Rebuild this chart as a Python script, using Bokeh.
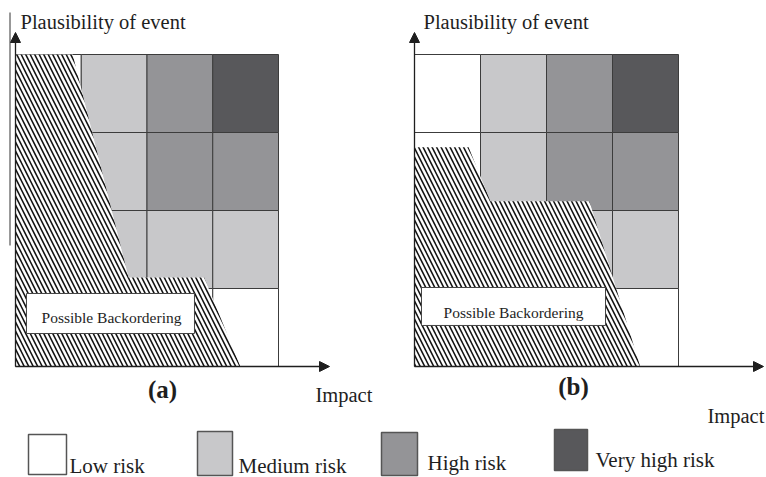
from bokeh.plotting import figure
from bokeh.models import Range1d, Arrow, NormalHead
from bokeh.core.properties import value
from bokeh.embed import file_html
from bokeh.resources import INLINE

# ---------------- data ----------------
impact_levels = [1, 2, 3, 4]
plaus_levels = [1, 2, 3, 4]
# risk category per impact level, one list per plausibility level
risk_plaus_4 = ["Low risk", "Medium risk", "High risk", "Very high risk"]
risk_plaus_3 = ["Low risk", "Medium risk", "High risk", "High risk"]
risk_plaus_2 = ["Low risk", "Medium risk", "Medium risk", "Medium risk"]
risk_plaus_1 = ["Low risk", "Low risk", "Low risk", "Low risk"]
risk_rows = {4: risk_plaus_4, 3: risk_plaus_3, 2: risk_plaus_2, 1: risk_plaus_1}

risk_levels = ["Low risk", "Medium risk", "High risk", "Very high risk"]
risk_colors = ["#ffffff", "#c8c8ca", "#949497", "#58585b"]

# possible backordering regions (impact, plausibility), grid units
backorder_a_impact = [0, 0.87, 1.72, 2.87, 3.42, 0]
backorder_a_plaus = [4, 4, 1.14, 1.14, 0, 0]
backorder_b_impact = [0, 0.82, 1.15, 2.65, 3.42, 0]
backorder_b_plaus = [2.81, 2.81, 2.12, 2.12, 0, 0]

panel_labels = ["(a)", "(b)"]
axis_y_title = "Plausibility of event"
axis_x_title = "Impact"
region_label = "Possible Backordering"

FONT = value("Liberation Serif")
INK = "#1e1e1e"
GRID = "#3c3c3c"

# ---------------- figure ----------------
W, H = 766, 477
p = figure(width=W, height=H, x_range=Range1d(0, W), y_range=Range1d(H, 0),
           output_backend="svg", toolbar_location=None, min_border=0)
p.axis.visible = False
p.grid.visible = False
p.outline_line_color = None
p.background_fill_color = "white"
p.border_fill_color = "white"

# panel grid scales (grid units)
ux_a, ux_b, uy = 65.75, 66.0, 78.0
p.extra_x_ranges = {
    "a": Range1d(-15 / ux_a, -15 / ux_a + W / ux_a),
    "b": Range1d(-414 / ux_b, -414 / ux_b + W / ux_b),
}
p.extra_y_ranges = {"g": Range1d(-(H - 366) / uy, 366 / uy)}

color_of = dict(zip(risk_levels, risk_colors))

def draw_panel(rname, poly_x, poly_y, box, text_xy):
    lefts, rights, bottoms, tops, cols = [], [], [], [], []
    for pl in plaus_levels:
        for im, r in zip(impact_levels, risk_rows[pl]):
            lefts.append(im - 1); rights.append(im)
            bottoms.append(pl - 1); tops.append(pl)
            cols.append(color_of[r])
    p.quad(left=lefts, right=rights, bottom=bottoms, top=tops, fill_color=cols,
           line_color=GRID, line_width=1, x_range_name=rname, y_range_name="g")
    p.patch(poly_x, poly_y, fill_color="white", hatch_pattern="\\", hatch_scale=9,
            hatch_weight=1.6, hatch_color="#151515", line_color=None,
            x_range_name=rname, y_range_name="g")
    l, r, b, t = box
    p.quad(left=[l], right=[r], bottom=[b], top=[t], fill_color="white",
           line_color="#444444", line_width=1, x_range_name=rname, y_range_name="g")
    p.text(x=[text_xy[0]], y=[text_xy[1]], text=[region_label], text_font=FONT,
           text_font_size="15.5px", text_align="center", text_baseline="middle",
           text_color=INK, x_range_name=rname, y_range_name="g")

draw_panel("a", backorder_a_impact, backorder_a_plaus, (0.167, 2.722, 0.423, 0.936), (1.46, 0.63))
draw_panel("b", backorder_b_impact, backorder_b_plaus, (0.106, 2.894, 0.526, 1.013), (1.50, 0.69))

# axes with arrows (page layout coordinates)
for xs, ys, xe, ye in [(15, 366, 15, 32), (15, 366, 329, 366),
                       (414, 366, 414, 32), (414, 366, 763, 366)]:
    p.add_layout(Arrow(end=NormalHead(size=10, fill_color=INK, line_color=INK, line_width=1),
                       x_start=xs, y_start=ys, x_end=xe, y_end=ye,
                       line_color=INK, line_width=1.3))
# thin vertical rule at the left edge
p.segment(x0=[9.5], y0=[12], x1=[9.5], y1=[245], line_color="#333333", line_width=1)

# titles (baseline positions, compensated for renderer offset)
dy = -6
p.text(x=[20, 423], y=[27 + dy, 27 + dy], text=[axis_y_title, axis_y_title], text_font=FONT,
       text_font_size="20.5px", text_align="left", text_baseline="alphabetic", text_color=INK)
p.text(x=[315, 707], y=[400 + dy, 421 + dy], text=[axis_x_title, axis_x_title], text_font=FONT,
       text_font_size="20.5px", text_align="left", text_baseline="alphabetic", text_color=INK)
p.text(x=[162, 573], y=[395 + dy, 392 + dy], text=panel_labels, text_font=FONT, text_font_style="bold",
       text_font_size="25px", text_align="center", text_baseline="alphabetic", text_color=INK)

# legend
leg_left = [28, 197, 381, 554]
leg_right = [66, 232, 417, 587]
leg_top = [434, 431, 432, 429]
leg_bottom = [474, 475, 475, 470]
p.quad(left=leg_left, right=leg_right, top=leg_top, bottom=leg_bottom, fill_color=risk_colors,
       line_color="#555555", line_width=1.5)
p.text(x=[69, 238, 427, 595], y=[471 + dy, 471 + dy, 468 + dy, 465 + dy], text=risk_levels,
       text_font=FONT, text_font_size="21px", text_align="left", text_baseline="alphabetic",
       text_color=INK)

open("out.html", "w").write(file_html(p, INLINE))
